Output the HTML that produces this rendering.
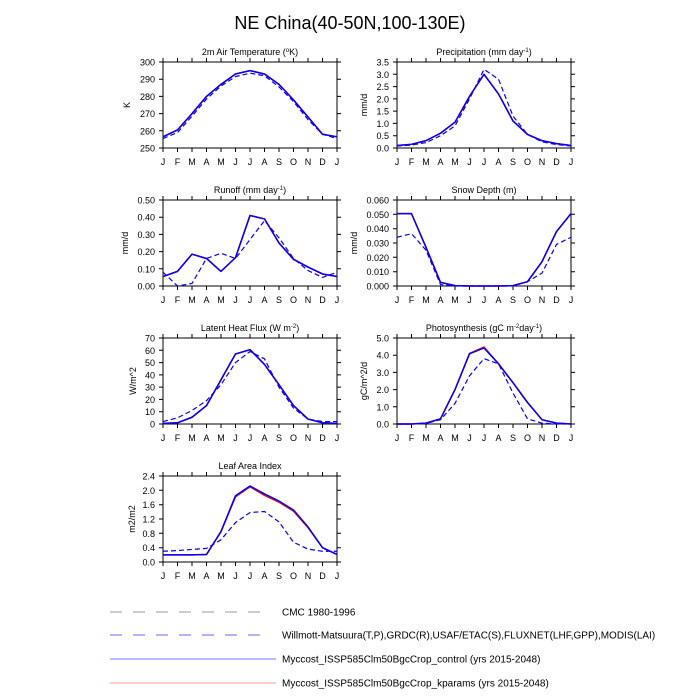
<!DOCTYPE html>
<html><head><meta charset="utf-8"><style>
html,body{margin:0;padding:0;background:#fff;}
svg{display:block;font-family:"Liberation Sans",sans-serif;}
.t{font-size:9px;fill:#000;}
.yl{font-size:9px;text-anchor:end;}
.ml{font-size:9px;text-anchor:middle;}
.fr{fill:none;stroke:#000;stroke-width:1;}
.m{fill:none;stroke:#0000ff;stroke-width:1.5;vector-effect:non-scaling-stroke;stroke-linejoin:round;}
.r{fill:none;stroke:#ff0000;stroke-width:1.5;vector-effect:non-scaling-stroke;stroke-linejoin:round;}
.o{fill:none;stroke:#0000ff;stroke-width:1.2;stroke-dasharray:5 3;vector-effect:non-scaling-stroke;}
</style></head><body>
<svg width="700" height="700" viewBox="0 0 700 700" xmlns="http://www.w3.org/2000/svg">
<text x="350" y="29" font-size="18" text-anchor="middle">NE China(40-50N,100-130E)</text>

<defs>
<path id="tk" d="M0,0v-4M14.5,0v-4M29,0v-4M43.5,0v-4M58,0v-4M72.5,0v-4M87,0v-4M101.5,0v-4M116,0v-4M130.5,0v-4M145,0v-4M159.5,0v-4M174,0v-4M0,86v4M14.5,86v4M29,86v4M43.5,86v4M58,86v4M72.5,86v4M87,86v4M101.5,86v4M116,86v4M130.5,86v4M145,86v4M159.5,86v4M174,86v4" stroke="#000" stroke-width="1"/>
<g id="mon" class="ml">
<text x="0" y="103" class="ml">J</text><text x="14.5" y="103" class="ml">F</text><text x="29" y="103" class="ml">M</text><text x="43.5" y="103" class="ml">A</text><text x="58" y="103" class="ml">M</text><text x="72.5" y="103" class="ml">J</text><text x="87" y="103" class="ml">J</text><text x="101.5" y="103" class="ml">A</text><text x="116" y="103" class="ml">S</text><text x="130.5" y="103" class="ml">O</text><text x="145" y="103" class="ml">N</text><text x="159.5" y="103" class="ml">D</text><text x="174" y="103" class="ml">J</text>
</g>
</defs>

<!-- Panel 1: Temperature -->
<g transform="translate(163,62)"><rect class="fr" x="0" y="0" width="174" height="86"/><use href="#tk"/><use href="#mon"/></g>
<text x="250" y="55" class="ml">2m Air Temperature (<tspan font-size="6" dy="-3">o</tspan><tspan dy="3">K)</tspan></text>
<g stroke="#000"><path d="M163,148h-4M163,130.8h-4M163,113.6h-4M163,96.4h-4M163,79.2h-4M163,62h-4M337,148h4M337,130.8h4M337,113.6h4M337,96.4h4M337,79.2h4M337,62h4"/></g>
<g class="yl"><text x="155" y="151.5" class="yl">250</text><text x="155" y="134.3" class="yl">260</text><text x="155" y="117.1" class="yl">270</text><text x="155" y="99.9" class="yl">280</text><text x="155" y="82.7" class="yl">290</text><text x="155" y="65.5" class="yl">300</text></g>
<text transform="translate(130,105) rotate(-90)" class="ml">K</text>
<g transform="translate(163,148) scale(14.5,-1.72) translate(0,-250)">
<polyline class="o" points="0,255.5 1,259 2,268.5 3,278.5 4,286 5,291.5 6,293.5 7,292 8,285.5 9,277 10,266.5 11,258 12,255.5"/>
<polyline class="r" points="0,256.5 1,260.5 2,270 3,280 4,287 5,293 6,295 7,293 8,287 9,278 10,268 11,258 12,256.5"/>
<polyline class="m" points="0,256.5 1,260.5 2,270 3,280 4,287 5,293 6,295 7,293 8,287 9,278 10,268 11,258 12,256.5"/>
</g>

<g transform="translate(17,0)">
<!-- Panel 2: Precip -->
<g transform="translate(380,62)"><rect class="fr" x="0" y="0" width="174" height="86"/><use href="#tk"/><use href="#mon"/></g>
<text x="467" y="55" class="ml">Precipitation (mm day<tspan font-size="6" dy="-3">-1</tspan><tspan dy="3">)</tspan></text>
<g stroke="#000"><path d="M380,148h-4M380,135.7h-4M380,123.4h-4M380,111.1h-4M380,98.9h-4M380,86.6h-4M380,74.3h-4M380,62h-4M554,148h4M554,135.7h4M554,123.4h4M554,111.1h4M554,98.9h4M554,86.6h4M554,74.3h4M554,62h4"/></g>
<g><text x="372" y="151.5" class="yl">0.0</text><text x="372" y="139.2" class="yl">0.5</text><text x="372" y="126.9" class="yl">1.0</text><text x="372" y="114.6" class="yl">1.5</text><text x="372" y="102.4" class="yl">2.0</text><text x="372" y="90.1" class="yl">2.5</text><text x="372" y="77.8" class="yl">3.0</text><text x="372" y="65.5" class="yl">3.5</text></g>
<text transform="translate(350,105) rotate(-90)" class="ml">mm/d</text>
<g transform="translate(380,148) scale(14.5,-24.571)">
<polyline class="o" points="0,0.08 1,0.12 2,0.22 3,0.5 4,0.9 5,2.0 6,3.2 7,2.8 8,1.3 9,0.55 10,0.25 11,0.14 12,0.08"/>
<polyline class="r" points="0,0.1 1,0.15 2,0.3 3,0.6 4,1.05 5,2.1 6,3.0 7,2.2 8,1.1 9,0.55 10,0.3 11,0.18 12,0.1"/>
<polyline class="m" points="0,0.1 1,0.15 2,0.3 3,0.6 4,1.05 5,2.1 6,3.0 7,2.2 8,1.1 9,0.55 10,0.3 11,0.18 12,0.1"/>
</g>

<!-- Panel 4: Snow -->
<g transform="translate(380,200)"><rect class="fr" x="0" y="0" width="174" height="86"/><use href="#tk"/><use href="#mon"/></g>
<text x="467" y="193" class="ml">Snow Depth (m)</text>
<g stroke="#000"><path d="M380,286h-4M380,271.7h-4M380,257.3h-4M380,243h-4M380,228.7h-4M380,214.3h-4M380,200h-4M554,286h4M554,271.7h4M554,257.3h4M554,243h4M554,228.7h4M554,214.3h4M554,200h4"/></g>
<g><text x="372" y="289.5" class="yl">0.000</text><text x="372" y="275.2" class="yl">0.010</text><text x="372" y="260.8" class="yl">0.020</text><text x="372" y="246.5" class="yl">0.030</text><text x="372" y="232.2" class="yl">0.040</text><text x="372" y="217.8" class="yl">0.050</text><text x="372" y="203.5" class="yl">0.060</text></g>
<text transform="translate(340,243) rotate(-90)" class="ml">mm/d</text>
<g transform="translate(380,286) scale(14.5,-1433.3)">
<polyline class="o" points="0,0.034 1,0.0365 2,0.025 3,0.001 4,0 5,0 6,0 7,0 8,0 9,0.003 10,0.009 11,0.029 12,0.034"/>
<polyline class="r" points="0,0.0505 1,0.0505 2,0.027 3,0.0025 4,0.0003 5,0 6,0 7,0 8,0.0003 9,0.003 10,0.017 11,0.038 12,0.0505"/>
<polyline class="m" points="0,0.0505 1,0.0505 2,0.027 3,0.0025 4,0.0003 5,0 6,0 7,0 8,0.0003 9,0.003 10,0.017 11,0.038 12,0.0505"/>
</g>

<!-- Panel 6: Photosynthesis -->
<g transform="translate(380,338)"><rect class="fr" x="0" y="0" width="174" height="86"/><use href="#tk"/><use href="#mon"/></g>
<text x="467" y="331" class="ml">Photosynthesis (gC m<tspan font-size="6" dy="-3">-2</tspan><tspan dy="3">day</tspan><tspan font-size="6" dy="-3">-1</tspan><tspan dy="3">)</tspan></text>
<g stroke="#000"><path d="M380,424h-4M380,406.8h-4M380,389.6h-4M380,372.4h-4M380,355.2h-4M380,338h-4M554,424h4M554,406.8h4M554,389.6h4M554,372.4h4M554,355.2h4M554,338h4"/></g>
<g><text x="372" y="427.5" class="yl">0.0</text><text x="372" y="410.3" class="yl">1.0</text><text x="372" y="393.1" class="yl">2.0</text><text x="372" y="375.9" class="yl">3.0</text><text x="372" y="358.7" class="yl">4.0</text><text x="372" y="341.5" class="yl">5.0</text></g>
<text transform="translate(350,381) rotate(-90)" class="ml">gC/m^2/d</text>
<g transform="translate(380,424) scale(14.5,-17.2)">
<polyline class="o" points="0,0 1,0 2,0.03 3,0.25 4,1.2 5,2.8 6,3.8 7,3.5 8,1.8 9,0.3 10,0.05 11,0 12,0"/>
<polyline class="r" points="0,0 1,0 2,0.05 3,0.3 4,2.0 5,4.1 6,4.47 7,3.5 8,2.4 9,1.25 10,0.25 11,0.05 12,0"/>
<polyline class="m" points="0,0 1,0 2,0.05 3,0.3 4,2.0 5,4.08 6,4.42 7,3.5 8,2.4 9,1.25 10,0.25 11,0.05 12,0"/>
</g>
</g>

<!-- Panel 3: Runoff -->
<g transform="translate(163,200)"><rect class="fr" x="0" y="0" width="174" height="86"/><use href="#tk"/><use href="#mon"/></g>
<text x="250" y="193" class="ml">Runoff (mm day<tspan font-size="6" dy="-3">-1</tspan><tspan dy="3">)</tspan></text>
<g stroke="#000"><path d="M163,286h-4M163,268.8h-4M163,251.6h-4M163,234.4h-4M163,217.2h-4M163,200h-4M337,286h4M337,268.8h4M337,251.6h4M337,234.4h4M337,217.2h4M337,200h4"/></g>
<g><text x="155" y="289.5" class="yl">0.00</text><text x="155" y="272.3" class="yl">0.10</text><text x="155" y="255.1" class="yl">0.20</text><text x="155" y="237.9" class="yl">0.30</text><text x="155" y="220.7" class="yl">0.40</text><text x="155" y="203.5" class="yl">0.50</text></g>
<text transform="translate(128,243) rotate(-90)" class="ml">mm/d</text>
<g transform="translate(163,286) scale(14.5,-172)">
<polyline class="o" points="0,0.08 1,0 2,0.015 3,0.16 4,0.19 5,0.16 6,0.27 7,0.38 8,0.28 9,0.16 10,0.09 11,0.05 12,0.08"/>
<polyline class="r" points="0,0.055 1,0.085 2,0.185 3,0.16 4,0.085 5,0.165 6,0.41 7,0.39 8,0.25 9,0.155 10,0.11 11,0.07 12,0.055"/>
<polyline class="m" points="0,0.055 1,0.085 2,0.185 3,0.16 4,0.085 5,0.165 6,0.41 7,0.39 8,0.25 9,0.155 10,0.11 11,0.07 12,0.055"/>
</g>

<!-- Panel 5: LHF -->
<g transform="translate(163,338)"><rect class="fr" x="0" y="0" width="174" height="86"/><use href="#tk"/><use href="#mon"/></g>
<text x="250" y="331" class="ml">Latent Heat Flux (W m<tspan font-size="6" dy="-3">-2</tspan><tspan dy="3">)</tspan></text>
<g stroke="#000"><path d="M163,424h-4M163,411.7h-4M163,399.4h-4M163,387.1h-4M163,374.9h-4M163,362.6h-4M163,350.3h-4M163,338h-4M337,424h4M337,411.7h4M337,399.4h4M337,387.1h4M337,374.9h4M337,362.6h4M337,350.3h4M337,338h4"/></g>
<g><text x="155" y="427.5" class="yl">0</text><text x="155" y="415.2" class="yl">10</text><text x="155" y="402.9" class="yl">20</text><text x="155" y="390.6" class="yl">30</text><text x="155" y="378.4" class="yl">40</text><text x="155" y="366.1" class="yl">50</text><text x="155" y="353.8" class="yl">60</text><text x="155" y="341.5" class="yl">70</text></g>
<text transform="translate(136,381) rotate(-90)" class="ml">W/m^2</text>
<g transform="translate(163,424) scale(14.5,-1.2286)">
<polyline class="o" points="0,2 1,5 2,11 3,19 4,32 5,50 6,59 7,53 8,30 9,13 10,4 11,2 12,2"/>
<polyline class="r" points="0,0.5 1,1 2,5.5 3,15 4,36 5,57 6,60.5 7,48.5 8,32 9,15 10,4 11,1 12,0.5"/>
<polyline class="m" points="0,0.5 1,1 2,5.5 3,15 4,36 5,57 6,60.5 7,48.5 8,32 9,15 10,4 11,1 12,0.5"/>
</g>

<!-- Panel 7: LAI -->
<g transform="translate(163,476)"><rect class="fr" x="0" y="0" width="174" height="86"/><use href="#tk"/><use href="#mon"/></g>
<text x="250" y="469" class="ml">Leaf Area Index</text>
<g stroke="#000"><path d="M163,562h-4M163,547.7h-4M163,533.3h-4M163,519h-4M163,504.7h-4M163,490.3h-4M163,476h-4M337,562h4M337,547.7h4M337,533.3h4M337,519h4M337,504.7h4M337,490.3h4M337,476h4"/></g>
<g><text x="155" y="565.5" class="yl">0.0</text><text x="155" y="551.2" class="yl">0.4</text><text x="155" y="536.8" class="yl">0.8</text><text x="155" y="522.5" class="yl">1.2</text><text x="155" y="508.2" class="yl">1.6</text><text x="155" y="493.8" class="yl">2.0</text><text x="155" y="479.5" class="yl">2.4</text></g>
<text transform="translate(135,519) rotate(-90)" class="ml">m2/m2</text>
<g transform="translate(163,562) scale(14.5,-35.833)">
<polyline class="o" points="0,0.3 1,0.32 2,0.35 3,0.38 4,0.62 5,1.1 6,1.38 7,1.41 8,1.12 9,0.55 10,0.36 11,0.3 12,0.3"/>
<polyline class="r" points="0,0.2 1,0.2 2,0.2 3,0.21 4,0.85 5,1.82 6,2.1 7,1.86 8,1.67 9,1.42 10,0.96 11,0.4 12,0.21"/>
<polyline class="m" points="0,0.2 1,0.2 2,0.2 3,0.21 4,0.85 5,1.85 6,2.12 7,1.9 8,1.7 9,1.45 10,0.98 11,0.4 12,0.21"/>
</g>

<!-- Legend -->
<line x1="110" y1="612" x2="266" y2="612" stroke="#999" stroke-width="1" stroke-dasharray="12 11"/>
<text x="282" y="615.5" font-size="10">CMC 1980-1996</text>
<line x1="110" y1="635" x2="266" y2="635" stroke="#6b6bff" stroke-width="1" stroke-dasharray="12 11"/>
<text x="282" y="638.5" font-size="10">Willmott-Matsuura(T,P),GRDC(R),USAF/ETAC(S),FLUXNET(LHF,GPP),MODIS(LAI)</text>
<line x1="110" y1="659" x2="276" y2="659" stroke="#7777ff" stroke-width="1"/>
<text x="282" y="662.5" font-size="10">Myccost_ISSP585Clm50BgcCrop_control (yrs 2015-2048)</text>
<line x1="110" y1="683" x2="276" y2="683" stroke="#ff9999" stroke-width="1"/>
<text x="282" y="686.5" font-size="10">Myccost_ISSP585Clm50BgcCrop_kparams (yrs 2015-2048)</text>
</svg>
</body></html>
